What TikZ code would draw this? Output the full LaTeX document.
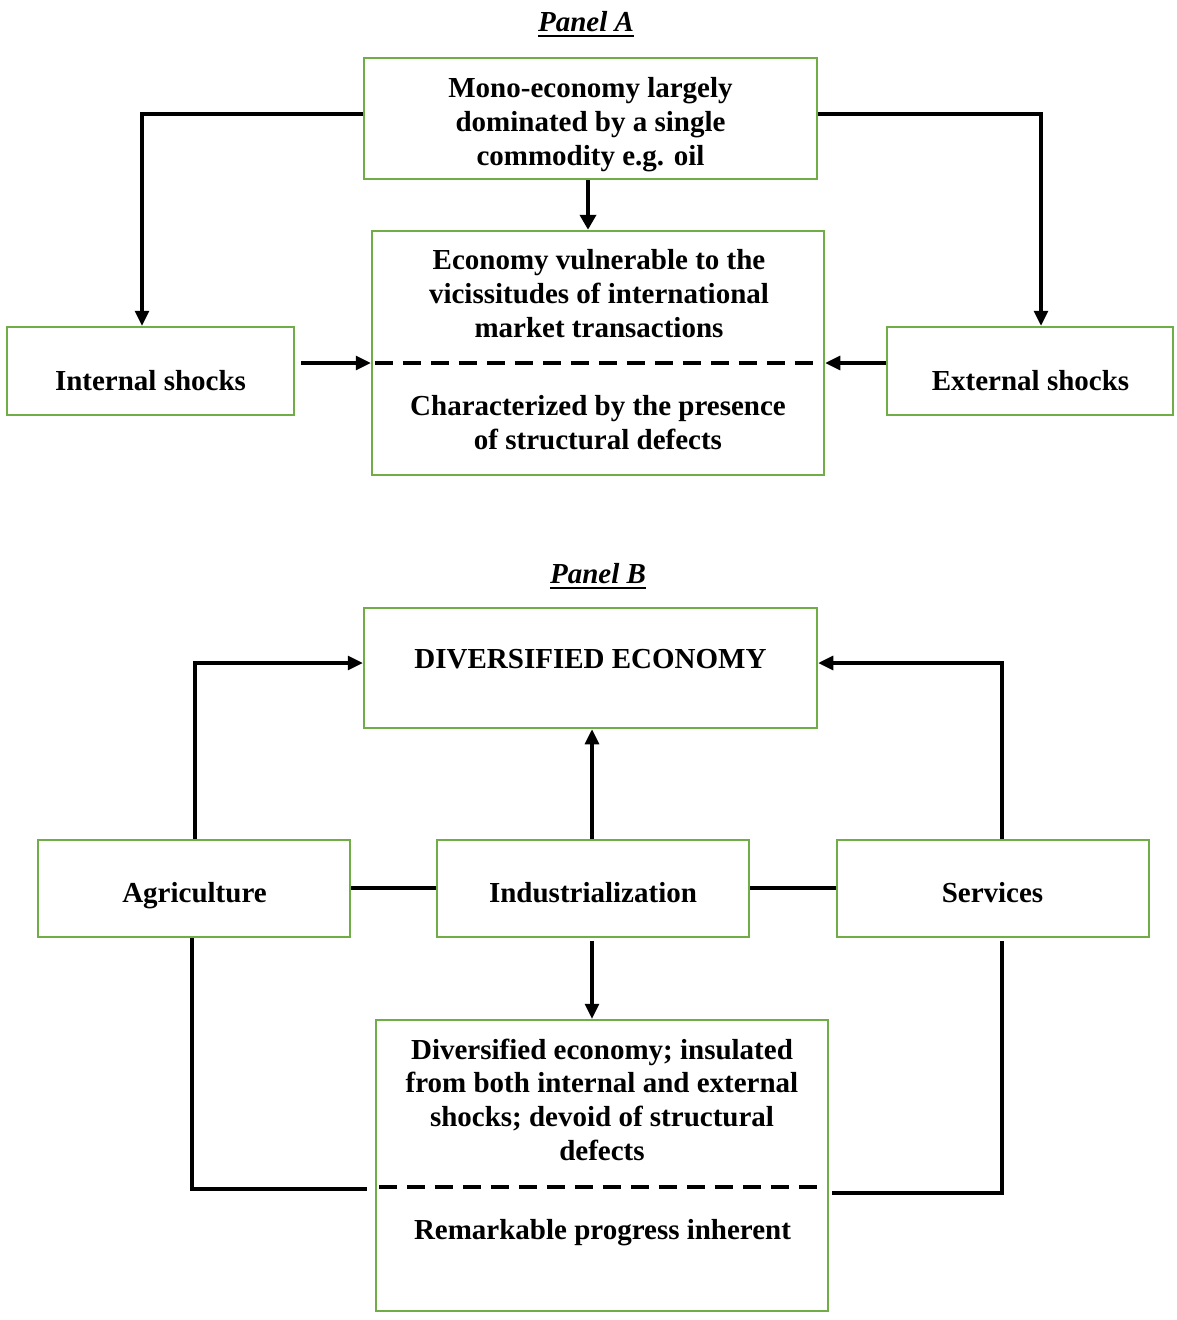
\documentclass[tikz,border=0pt]{standalone}
\usepackage{fontspec}
\setmainfont{Liberation Serif}
\usetikzlibrary{arrows.meta,calc}
\definecolor{boxgreen}{HTML}{70AD47}
\begin{document}
\begin{tikzpicture}[x=1pt,y=-1pt,
  box/.style={draw=boxgreen, line width=2.5pt, rectangle, inner sep=0pt},
  txt/.style={font=\fontsize{29}{33.7}\selectfont\bfseries, align=center, inner sep=0pt},
  ttl/.style={font=\fontsize{29}{33.7}\selectfont\bfseries\itshape, inner sep=0pt},
  conn/.style={line width=3.2pt},
  arr/.style={line width=3.2pt, -{Triangle[length=15pt,width=14pt]}},
  dsh/.style={line width=3.2pt, dash pattern=on 18pt off 10pt}
]
\useasboundingbox (0,0) rectangle (1176,1320);
\fill[white] (0,0) rectangle (1176,1320);

% ---------- Panel A ----------
\node[ttl, anchor=base] (tA) at (586,31) {Panel A};
\draw[line width=2.5pt] ([yshift=-5pt]tA.base west) -- ([yshift=-5pt]tA.base east);

\node[box, minimum width=453pt, minimum height=121pt] (mono) at (590.5,118.5) {};
\node[box, minimum width=452pt, minimum height=244pt] (econ) at (598,353) {};
\node[box, minimum width=287pt, minimum height=88pt] (intl) at (150.5,371) {};
\node[box, minimum width=286pt, minimum height=88pt] (extl) at (1030,371) {};

\node[txt, anchor=north] (monot) at (590.5,77.5) {Mono-economy largely\\dominated by a single\\commodity e.g. oil};
\node[txt, anchor=north] (econt1) at (599,249.5) {Economy vulnerable to the\\vicissitudes of international\\market transactions};
\node[txt, anchor=north] (econt2) at (598,395.5) {Characterized by the presence\\of structural defects};
\node[txt, anchor=base] (intlt) at (150.5,390.5) {Internal shocks};
\node[txt, anchor=base] (extlt) at (1030.5,390.5) {External shocks};

\draw[dsh] ([xshift=4pt]econ.west |- 0,363) -- ([xshift=-10pt]econ.east |- 0,363);
\draw[arr] (mono.west |- 0,114) -| (142,0 |- intl.north);
\draw[arr] (mono.east |- 0,114) -| (1041,0 |- extl.north);
\draw[line width=4.8pt, -{Triangle[length=15pt,width=16pt]}] (mono.south -| 588,0) -- (econ.north -| 588,0);
\draw[arr] ([xshift=6pt]intl.east |- 0,363) -- (econ.west |- 0,363);
\draw[arr] (extl.west |- 0,363) -- (econ.east |- 0,363);

% ---------- Panel B ----------
\node[ttl, anchor=base] (tB) at (598,583) {Panel B};
\draw[line width=2.5pt] ([yshift=-5pt]tB.base west) -- ([yshift=-5pt]tB.base east);

\node[box, minimum width=453pt, minimum height=120pt] (div) at (590.5,668) {};
\node[box, minimum width=312pt, minimum height=97pt] (agri) at (194,888.5) {};
\node[box, minimum width=312pt, minimum height=97pt] (indu) at (593,888.5) {};
\node[box, minimum width=312pt, minimum height=97pt] (serv) at (993,888.5) {};
\node[box, minimum width=452pt, minimum height=291pt] (res) at (602,1165.5) {};

\node[txt, anchor=base] (divt) at (590.5,668.5) {DIVERSIFIED ECONOMY};
\node[txt, anchor=base] (agrit) at (194.5,902.5) {Agriculture};
\node[txt, anchor=base] (indut) at (593,902.5) {Industrialization};
\node[txt, anchor=base] (servt) at (992.5,902.5) {Services};
\node[txt, anchor=north] (rest1) at (602,1038.5) {Diversified economy; insulated\\from both internal and external\\shocks; devoid of structural\\defects};
\node[txt, anchor=base] (rest2) at (602.5,1239.5) {Remarkable progress inherent};

\draw[dsh] ([xshift=4pt]res.west |- 0,1187) -- ([xshift=-12pt]res.east |- 0,1187);
\draw[arr] (agri.north -| 195,0) |- (div.west |- 0,663);
\draw[arr] (serv.north -| 1002,0) |- (div.east |- 0,663);
\draw[arr] (indu.north -| 592,0) -- (div.south -| 592,0);
\draw[arr] ([yshift=-3pt]indu.south -| 592,0) -- (res.north -| 592,0);
\draw[conn] (agri.east |- 0,888) -- (indu.west |- 0,888);
\draw[conn] (indu.east |- 0,888) -- (serv.west |- 0,888);
\coordinate (agriend) at ([xshift=-8pt]res.west |- 0,1189);
\coordinate (servend) at ([xshift=3pt]res.east |- 0,1193);
\draw[conn] (agri.south -| 192,0) |- (agriend);
\draw[conn] ([yshift=-3pt]serv.south -| 1002,0) |- (servend);
\end{tikzpicture}
\end{document}
